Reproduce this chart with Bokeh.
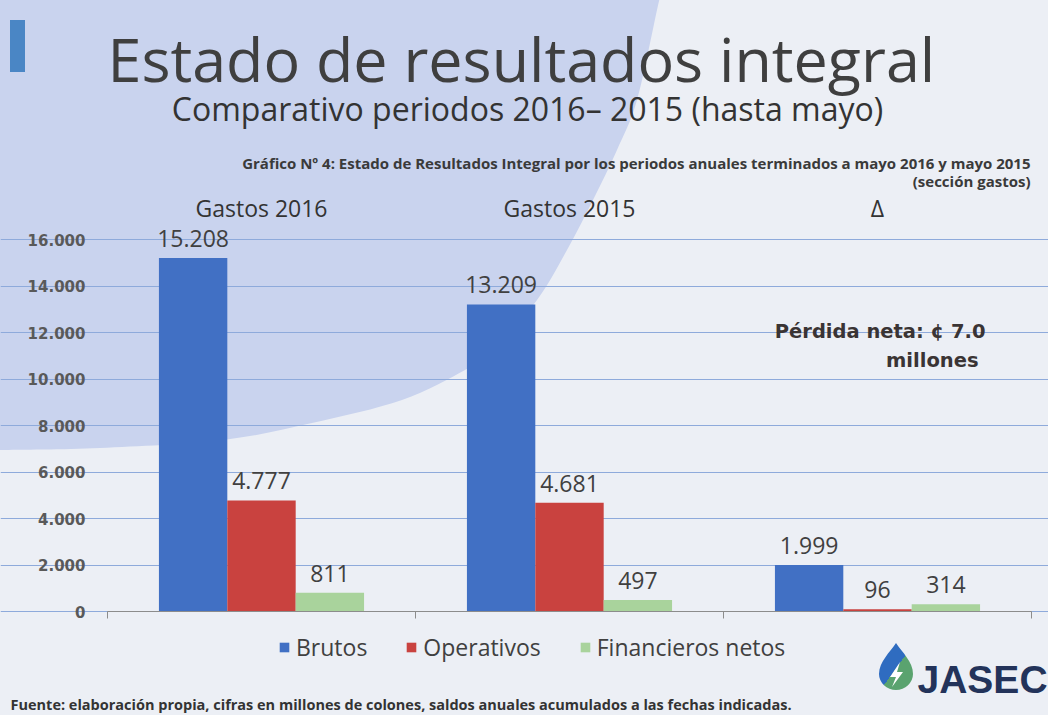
import urllib.parse
from bokeh.plotting import figure
from bokeh.models import (ColumnDataSource, Label, LabelSet, Legend, LegendItem,
                          FixedTicker, Range1d)
from bokeh.core.properties import value
from bokeh.embed import file_html
from bokeh.resources import INLINE

# ---------------- data ----------------
groups = ["Gastos 2016", "Gastos 2015", "Δ"]
series = ["Brutos", "Operativos", "Financieros netos"]
brutos = [15208, 13209, 1999]
operativos = [4777, 4681, 96]
financieros = [811, 497, 314]
y_ticks = [0, 2000, 4000, 6000, 8000, 10000, 12000, 14000, 16000]
y_tick_labels = ["0", "2.000", "4.000", "6.000", "8.000", "10.000", "12.000", "14.000", "16.000"]
colors = ["#4170c4", "#c9423f", "#a9d39c"]

# ---------------- layout (whole canvas is the frame) ----------------
W, H = 1048, 715
N = len(groups)
X_AT_0, X_AT_N = 107, 1031        # pixel columns of the category axis ends
Y_AT_0, Y_AT_16K = 611, 239       # pixel rows of 0 and 16.000
SX = (X_AT_N - X_AT_0) / N
SY = (Y_AT_0 - Y_AT_16K) / 16000.0
x_start, x_end = -X_AT_0 / SX, (W - X_AT_0) / SX
y_start, y_end = -(H - Y_AT_0) / SY, Y_AT_0 / SY


def dx(X):
    return (X - X_AT_0) / SX


def dy(Y):
    return (Y_AT_0 - Y) / SY


# ---------------- decorative slide background (CSS/SVG) ----------------
BG = "#eceff5"
edge = [(662, -12), (657, 10), (637, 100), (617, 150), (593, 200), (567, 250), (537, 300),
        (493, 350), (465, 370), (402, 400), (312, 423), (223, 440), (100, 448), (0, 450), (-12, 450)]


def smooth_path(pts):
    d = "M%.1f %.1f" % pts[0]
    for i in range(len(pts) - 1):
        p0 = pts[i - 1] if i > 0 else pts[i]
        p1, p2 = pts[i], pts[i + 1]
        p3 = pts[i + 2] if i + 2 < len(pts) else p2
        c1 = (p1[0] + (p2[0] - p0[0]) / 6, p1[1] + (p2[1] - p0[1]) / 6)
        c2 = (p2[0] - (p3[0] - p1[0]) / 6, p2[1] - (p3[1] - p1[1]) / 6)
        d += " C%.1f %.1f %.1f %.1f %.1f %.1f" % (c1 + c2 + p2)
    return d + " L-12 -12 Z"


svg = (
    "<svg xmlns='http://www.w3.org/2000/svg' width='%d' height='%d'>" % (W, H)
    + "<defs><linearGradient id='dg' x1='0' y1='0' x2='1' y2='1'>"
      "<stop offset='0.52' stop-color='#2f6cc0'/><stop offset='0.52' stop-color='#5aa36f'/>"
      "</linearGradient></defs>"
    + "<path d='%s' fill='#c9d3ee'/>" % smooth_path(edge)
    + "<rect x='10' y='20' width='15' height='52' fill='#4a86c5'/>"
    + "<path d='M896 643 C890 652 879 662 879 674 A17 16 0 0 0 913 674 C913 662 902 652 896 643 Z' fill='url(#dg)'/>"
    + "<path d='M900 662 L890 677 L896 677 L892 687 L903 672 L897 672 Z' fill='#ffffff'/>"
    + "</svg>"
)
background = 'url("data:image/svg+xml,%s") 0 0 / %dpx %dpx no-repeat, %s' % (
    urllib.parse.quote(svg, safe=""), W, H, BG)

p = figure(width=W, height=H, x_range=Range1d(x_start, x_end), y_range=Range1d(y_start, y_end),
           output_backend="svg", toolbar_location=None,
           min_border_left=0, min_border_right=0, min_border_top=0, min_border_bottom=0,
           styles={"background": background})
p.background_fill_alpha = 0
p.border_fill_alpha = 0
p.outline_line_color = None

# ---------------- bars ----------------
centers = [i + 0.5 for i in range(N)]
bw = 0.222
offsets = [-bw, 0, bw]
vals = [brutos, operativos, financieros]
renderers = []
for s, v, off, c in zip(series, vals, offsets, colors):
    src = ColumnDataSource(dict(
        x=[g + off for g in centers],
        top=v,
        txt=[f"{a:,}".replace(",", ".") for a in v],
    ))
    rr = p.vbar(x="x", top="top", width=bw, source=src, fill_color=c, line_color=None)
    renderers.append(rr)
    p.add_layout(LabelSet(x="x", y="top", text="txt", source=src, text_align="center",
                          text_baseline="bottom", y_offset=11, text_font=value("Open Sans"),
                          text_font_size=value("23px"), text_color="#404040"))

# ---------------- axes ----------------
p.yaxis.fixed_location = 0
p.yaxis.bounds = (0, 16000)
p.yaxis.ticker = FixedTicker(ticks=y_ticks)
p.yaxis.major_label_overrides = dict(zip(y_ticks, y_tick_labels))
p.yaxis.axis_line_color = None
p.yaxis.major_tick_line_color = None
p.yaxis.minor_tick_line_color = None
p.yaxis.major_label_standoff = 16
p.yaxis.major_label_text_font = "DejaVu Sans"
p.yaxis.major_label_text_font_style = "bold"
p.yaxis.major_label_text_font_size = "15px"
p.yaxis.major_label_text_color = "#595959"

x_ticks = list(range(N + 1))
p.xaxis.fixed_location = 0
p.xaxis.bounds = (0, N)
p.xaxis.ticker = FixedTicker(ticks=x_ticks)
p.xaxis.major_label_overrides = {t: "" for t in x_ticks}
p.xaxis.major_label_standoff = 0
p.xaxis.axis_line_color = "#8c8c8c"
p.xaxis.major_tick_line_color = "#8c8c8c"
p.xaxis.major_tick_out = 7
p.xaxis.major_tick_in = 0
p.xaxis.minor_tick_line_color = None

p.xgrid.visible = False
p.ygrid.bounds = (0, N)
p.ygrid.grid_line_color = "#8eaadb"
p.ygrid.grid_line_width = 1

# ---------------- legend ----------------
legend = Legend(items=[LegendItem(label=s, renderers=[rr]) for s, rr in zip(series, renderers)],
                orientation="horizontal", location=(278, H - 663),
                padding=0, margin=0, spacing=38, glyph_width=12, glyph_height=12,
                label_standoff=6, label_text_font="Open Sans", label_text_font_size="23px",
                label_text_color="#404040", background_fill_alpha=0, border_line_alpha=0)
p.add_layout(legend, "center")


# ---------------- texts ----------------
def lab(X, Y, text, size, font="Open Sans", style="normal", color="#404040", align="left", base="alphabetic"):
    p.add_layout(Label(x=dx(X), y=dy(Y), text=text, text_font=font, text_font_size=size,
                       text_font_style=style, text_color=color, text_align=align,
                       text_baseline=base))


lab(107, 58, "Estado de resultados integral", "61px", color="#3f3f3f")
lab(527, 108, "Comparativo periodos 2016– 2015 (hasta mayo)", "32px", color="#333333", align="center")
lab(1030, 162, "Gráfico Nº 4: Estado de Resultados Integral por los periodos anuales terminados a mayo 2016 y mayo 2015",
    "15px", style="bold", color="#3a3a3a", align="right")
lab(1030, 180, "(sección gastos)", "15px", style="bold", color="#3a3a3a", align="right")
for g, c in zip(groups, centers):
    p.add_layout(Label(x=c, y=dy(207), text=g, text_font="Open Sans", text_font_size="23px",
                       text_color="#333333", text_align="center", text_baseline="middle"))
lab(985, 331, "Pérdida neta: ¢ 7.0", "19.5px", font="DejaVu Sans", style="bold", color="#3a3434", align="right")
lab(978, 360, "millones", "19.5px", font="DejaVu Sans", style="bold", color="#3a3434", align="right")
lab(917, 679, "JASEC", "39px", font="Liberation Sans", style="bold", color="#23335a")
lab(10, 704, "Fuente: elaboración propia, cifras en millones de colones, saldos anuales acumulados a las fechas indicadas.",
    "14.5px", style="bold", color="#333333")

open("out.html", "w").write(file_html(p, INLINE))
